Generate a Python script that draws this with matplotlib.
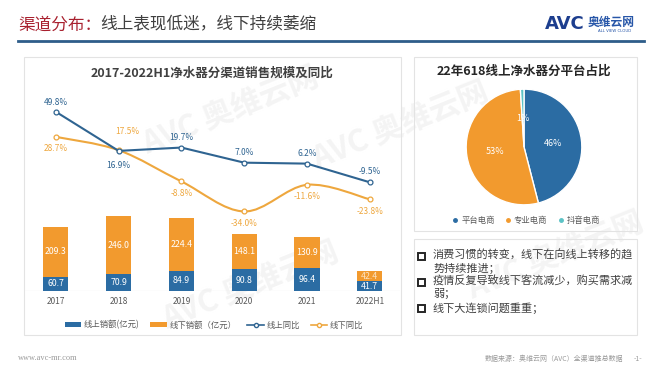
import matplotlib
matplotlib.use("Agg")
import matplotlib.pyplot as plt
from matplotlib.patches import Rectangle, Patch, PathPatch
from matplotlib.lines import Line2D
from matplotlib.path import Path
import numpy as np

plt.rcParams['font.family'] = ['Noto Sans CJK SC', 'DejaVu Sans']

# ---------------- data ----------------
years = ["2017", "2018", "2019", "2020", "2021", "2022H1"]
online_sales = [60.7, 70.9, 84.9, 90.8, 96.4, 41.7]
offline_sales = [209.3, 246.0, 224.4, 148.1, 130.9, 42.4]
online_yoy = [49.8, 16.9, 19.7, 7.0, 6.2, -9.5]
offline_yoy = [28.7, 17.5, -8.8, -34.0, -11.6, -23.8]

pie_labels = ["平台电商", "专业电商", "抖音电商"]
pie_values = [46, 53, 1]

bullets = ["消费习惯的转变，线下在向线上转移的趋\n势持续推进；",
           "疫情反复导致线下客流减少，购买需求减\n弱；",
           "线下大连锁问题重重；"]

# ---------------- styling ----------------
C_BLUE = "#2B6CA3"
C_ORANGE = "#F29A2E"
C_LBLUE = "#2F6491"
C_LORANGE = "#EEA73E"
C_TEAL = "#5CC3C6"
C_TXT = "#595959"

W, H = 660, 372
fig = plt.figure(figsize=(W / 100, H / 100), dpi=100)
fig.patch.set_facecolor("white")


def fx(x):
    return x / W


def fy(y):
    return 1 - y / H


# watermarks (faint, behind everything)
for (wx, wy) in [(230, 110), (400, 125), (250, 285), (555, 255)]:
    fig.text(fx(wx), fy(wy), "AVC 奥维云网", fontsize=22, color="#F4F4F4",
             rotation=22, ha="center", va="center", fontweight="bold", zorder=-5)

# header
fig.text(fx(18), fy(25), "渠道分布：", fontsize=12, color="#A8202E", va="center", ha="left")
fig.text(fx(100), fy(25), "线上表现低迷，线下持续萎缩", fontsize=12, color="#404040",
         va="center", ha="left")
fig.add_artist(Line2D([fx(18), fx(644)], [fy(41), fy(41)], color="#2E5D8A", lw=2,
                      transform=fig.transFigure))
# logo
fig.text(fx(545), fy(24), "AVC", fontsize=13, color="#1D3E8E", fontweight="bold",
         va="center", ha="left", family="DejaVu Sans")
fig.text(fx(588), fy(22), "奥维云网", fontsize=8.5, color="#2756A8", fontweight="bold",
         va="center", ha="left")
fig.text(fx(615), fy(31), "ALL VIEW CLOUD", fontsize=2.8, color="#2756A8",
         va="center", ha="center", family="DejaVu Sans")

# panel boxes
for (x0, y0, x1, y1) in [(24, 57, 401, 335), (414, 57, 637, 231), (414, 239, 637, 335)]:
    fig.add_artist(Rectangle((fx(x0), fy(y1)), fx(x1 - x0), (y1 - y0) / H,
                             transform=fig.transFigure, fill=False,
                             edgecolor="#E3E3E3", lw=0.8))

# ---------------- left chart ----------------
fig.text(fx(212), fy(73), "2017-2022H1净水器分渠道销售规模及同比", fontsize=9,
         fontweight="bold", color="#404040", ha="center", va="center")

ax = fig.add_axes([fx(25), fy(291), fx(375), 201 / H], zorder=2)
x = np.arange(len(years))
ax.bar(x, online_sales, width=0.4, color=C_BLUE, zorder=2)
ax.bar(x, offline_sales, width=0.4, bottom=online_sales, color=C_ORANGE, zorder=2)
ax.set_xlim(-0.49, 5.48)
ax.set_ylim(0, 201 / 0.237)
for i in range(len(years)):
    ax.text(x[i], online_sales[i] / 2, f"{online_sales[i]:.1f}", color="white",
            fontsize=6.3, ha="center", va="center", zorder=3)
    ax.text(x[i], online_sales[i] + offline_sales[i] / 2, f"{offline_sales[i]:.1f}",
            color="white" if i < 5 else "#FBE3C4", fontsize=6.3, ha="center",
            va="center", zorder=3)
ax.axhline(0, color="#D9D9D9", lw=0.8, zorder=1)
for s in ax.spines.values():
    s.set_visible(False)
ax.set_yticks([])
ax.set_xticks(x)
ax.set_xticklabels(years, fontsize=6, color=C_TXT)
ax.tick_params(axis="x", length=0, pad=4)
ax.patch.set_alpha(0)

ax2 = ax.twinx()
ax2.set_ylim(-120 / 1.19, 81 / 1.19)
ax2.set_xlim(-0.49, 5.48)
ax2.axis("off")

# offline smooth line (Catmull-Rom bezier through the data points)
pts = np.column_stack([x, offline_yoy]).astype(float)
verts = [tuple(pts[0])]
codes = [Path.MOVETO]
n = len(pts)
for i in range(n - 1):
    p0 = pts[i - 1] if i > 0 else pts[i]
    p1 = pts[i]
    p2 = pts[i + 1]
    p3 = pts[i + 2] if i + 2 < n else pts[i + 1]
    c1 = p1 + (p2 - p0) / 6
    c2 = p2 - (p3 - p1) / 6
    verts += [tuple(c1), tuple(c2), tuple(p2)]
    codes += [Path.CURVE4] * 3
ax2.add_patch(PathPatch(Path(verts, codes), fill=False, edgecolor=C_LORANGE, lw=1.5, zorder=4))
ax2.plot(x, offline_yoy, ls="none", marker="o", ms=3.5, mfc="white", mec=C_LORANGE,
         mew=0.9, zorder=5)
ax2.plot(x, online_yoy, color=C_LBLUE, lw=1.5, marker="o", ms=3.5, mfc="white",
         mec=C_LBLUE, mew=0.9, zorder=6)

on_off = [(0, 9), (0, -15), (0, 10), (0, 10), (0, 10), (0, 11)]
off_off = [(0, -12), (9, 19), (0, -12), (0, -12), (0, -12), (0, -12)]
for i in range(len(years)):
    ax2.annotate(f"{online_yoy[i]:.1f}%", (x[i], online_yoy[i]), xytext=on_off[i],
                 textcoords="offset pixels", ha="center", va="center", fontsize=6,
                 color=C_LBLUE, zorder=7)
    ax2.annotate(f"{offline_yoy[i]:.1f}%", (x[i], offline_yoy[i]), xytext=off_off[i],
                 textcoords="offset pixels", ha="center", va="center", fontsize=6,
                 color=C_LORANGE, zorder=7)

handles = [Patch(facecolor=C_BLUE), Patch(facecolor=C_ORANGE),
           Line2D([], [], color=C_LBLUE, marker="o", ms=3, mfc="white", lw=1.2),
           Line2D([], [], color=C_LORANGE, marker="o", ms=3, mfc="white", lw=1.2)]
leg = fig.legend(handles, ["线上销额(亿元)", "线下销额（亿元）", "线上同比", "线下同比"],
                 loc="center", bbox_to_anchor=(fx(214), fy(325)), ncol=4, frameon=False,
                 fontsize=6, handlelength=2.0, handleheight=0.5, columnspacing=1.3,
                 handletextpad=0.3)
for t in leg.get_texts():
    t.set_color(C_TXT)

# ---------------- pie ----------------
fig.text(fx(524), fy(71), "22年618线上净水器分平台占比", fontsize=9, fontweight="bold",
         color="#262626", ha="center", va="center")
r = 59
axp = fig.add_axes([fx(524 - r), fy(147 + r), fx(2 * r), 2 * r / H], zorder=2)
wedges, texts, autotexts = axp.pie(
    pie_values, colors=[C_BLUE, C_ORANGE, C_TEAL], startangle=90, counterclock=False,
    radius=1, autopct=lambda p: f"{p:.0f}%", pctdistance=0.5,
    wedgeprops=dict(edgecolor="white", linewidth=1),
    textprops=dict(color="white", fontsize=6.5))
axp.set_xlim(-1.02, 1.02)
axp.set_ylim(-1.02, 1.02)
axp.set_aspect("equal")
axp.patch.set_alpha(0)

ph = [Line2D([], [], ls="none", marker="o", ms=2.5, color=c) for c in [C_BLUE, C_ORANGE, C_TEAL]]
leg2 = fig.legend(ph, pie_labels, loc="center", bbox_to_anchor=(fx(526), fy(220)), ncol=3,
                  frameon=False, fontsize=6, handlelength=0.8, columnspacing=1.2,
                  handletextpad=0.3)
for t in leg2.get_texts():
    t.set_color(C_TXT)

# ---------------- bullets ----------------
by = [256, 282, 308]
for yy, b in zip(by, bullets):
    fig.add_artist(Rectangle((fx(418.5), fy(yy + 3.5)), fx(7), 7 / H,
                             transform=fig.transFigure, fill=False,
                             edgecolor="#262626", lw=1.4))
    fig.text(fx(433), fy(yy - 6), b, fontsize=8, color="#404040", ha="left", va="top",
             linespacing=1.15)

# ---------------- footer ----------------
fig.text(fx(18), fy(358), "www.avc-mr.com", fontsize=6, color="#9A9A9A", ha="left",
         va="center", family="Liberation Serif")
fig.text(fx(623), fy(359), "数据来源：奥维云网（AVC）全渠道推总数据", fontsize=5,
         color="#9A9A9A", ha="right", va="center")
fig.text(fx(638), fy(359), "-1-", fontsize=5, color="#9A9A9A", ha="center", va="center")

fig.savefig("out.png", dpi=100)
